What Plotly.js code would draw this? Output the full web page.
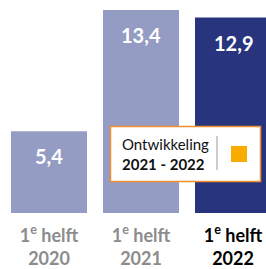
<!DOCTYPE html>
<html><head><meta charset="utf-8">
<script src="https://cdn.plot.ly/plotly-3.0.1.min.js"></script>
<style>html,body{margin:0;padding:0;background:#fff}</style>
</head><body><div id="c" style="width:266px;height:269px"></div>
<script>
const categories = ["1e helft 2020", "1e helft 2021", "1e helft 2022"];
const periods = ["2020", "2021", "2022"];
const values = [5.4, 13.4, 12.9];
const barColors = ["#949cc3", "#949cc3", "#29347f"];
const labelColors = ["#8c8c8c", "#8c8c8c", "#000000"];
const legendLines = ["Ontwikkeling", "2021 - 2022"];

const W = 266, PH = 213;
const px = v => v / W;
const py = v => (PH - v) / PH;

const tickText = periods.map((p, i) =>
  `<span style="color:${labelColors[i]}"><b>1<sup>e</sup> helft<br>${p}</b></span>`);

const annotations = values.map((v, i) => ({
  x: categories[i], y: v, xref: 'x', yref: 'y',
  text: '<b>' + v.toFixed(1).replace('.', ',') + '</b>',
  showarrow: false, yanchor: 'top', yshift: -11,
  font: {family: 'Lato', size: 20, color: '#ffffff'}
}));
annotations.push({
  x: px(120), y: py(153.5), xref: 'paper', yref: 'paper',
  xanchor: 'left', yanchor: 'middle', align: 'left', showarrow: false,
  text: legendLines[0] + '<br><b>' + legendLines[1] + '</b>',
  font: {family: 'Lato', size: 15, color: '#111111'}
});

const shapes = [
  {type: 'rect', xref: 'paper', yref: 'paper', x0: px(110.5), x1: px(260.5), y0: py(126.5), y1: py(181.5),
   fillcolor: '#ffffff', line: {color: '#ef8f2d', width: 1.5}},
  {type: 'line', xref: 'paper', yref: 'paper', x0: px(217), x1: px(217), y0: py(136), y1: py(170),
   line: {color: '#999999', width: 1}},
  {type: 'rect', xref: 'paper', yref: 'paper', x0: px(231), x1: px(247), y0: py(146), y1: py(162),
   fillcolor: '#f9ab00', line: {width: 0}}
];

Plotly.newPlot('c', [{
  type: 'bar', x: categories, y: values,
  marker: {color: barColors, line: {width: 0}},
  hoverinfo: 'none', textposition: 'none'
}], {
  width: 266, height: 269,
  margin: {l: 0, r: 0, t: 0, b: 56, pad: 0},
  paper_bgcolor: '#ffffff', plot_bgcolor: '#ffffff',
  bargap: 0.174, showlegend: false,
  xaxis: {
    range: [-0.5326, 2.3587], tickmode: 'array', tickvals: categories, ticktext: tickText,
    showgrid: false, zeroline: false, showline: false, ticks: '', ticklabelstandoff: 10,
    tickfont: {family: 'Lato', size: 18, color: '#8c8c8c'}, fixedrange: true
  },
  yaxis: {range: [0, 14.06], visible: false, fixedrange: true},
  annotations: annotations, shapes: shapes
}, {displayModeBar: false, staticPlot: true});
</script></body></html>
